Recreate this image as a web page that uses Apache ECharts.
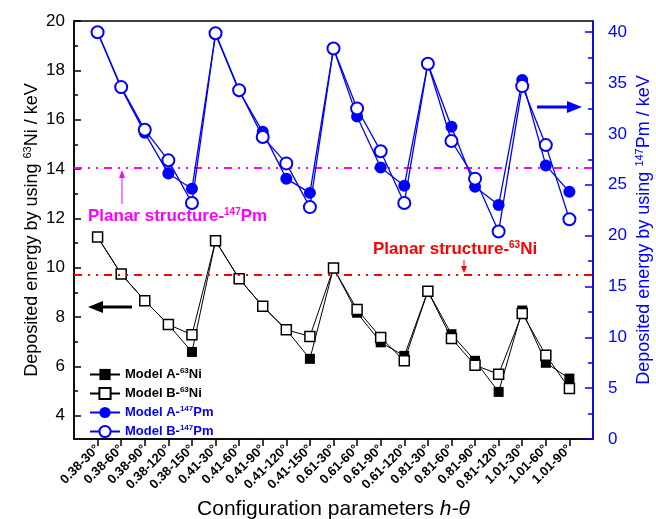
<!DOCTYPE html>
<html>
<head>
<meta charset="utf-8">
<script src="https://cdn.jsdelivr.net/npm/echarts@6/dist/echarts.min.js"></script>
<style>
  html, body { margin: 0; padding: 0; background: #fff; }
  #chart { width: 656px; height: 519px; }
</style>
</head>
<body>
<div id="chart"></div>
<script>
// configuration parameters h-theta
const categories = ['0.38-30°', '0.38-60°', '0.38-90°', '0.38-120°', '0.38-150°',
  '0.41-30°', '0.41-60°', '0.41-90°', '0.41-120°', '0.41-150°',
  '0.61-30°', '0.61-60°', '0.61-90°', '0.61-120°',
  '0.81-30°', '0.81-60°', '0.81-90°', '0.81-120°',
  '1.01-30°', '1.01-60°', '1.01-90°'];

// deposited energy, keV
const niModelA = [11.24, 9.74, 8.66, 7.69, 6.58, 11.09, 9.55, 8.43, 7.48, 6.30, 9.98, 8.17, 6.97, 6.42, 9.05, 7.30, 6.22, 4.96, 8.26, 6.14, 5.50];
const niModelB = [11.24, 9.74, 8.66, 7.69, 7.28, 11.09, 9.55, 8.43, 7.48, 7.21, 9.98, 8.30, 7.17, 6.22, 9.04, 7.13, 6.04, 5.68, 8.14, 6.45, 5.10];
const pmModelA = [40.0, 34.5, 30.1, 26.1, 24.6, 39.8, 34.2, 30.2, 25.6, 24.2, 38.4, 31.7, 26.7, 24.9, 36.9, 30.7, 24.8, 23.0, 35.3, 26.9, 24.3];
const pmModelB = [40.0, 34.6, 30.4, 27.4, 23.2, 39.9, 34.3, 29.7, 27.1, 22.8, 38.4, 32.5, 28.3, 23.2, 36.9, 29.3, 25.6, 20.4, 34.7, 28.9, 21.6];

// planar structure reference values
const niPlanar = 9.7;
const pmPlanar = 26.7;

// tick labels
const niTicks = [4, 6, 8, 10, 12, 14, 16, 18, 20];
const niMinor = [5, 7, 9, 11, 13, 15, 17, 19];
const pmTicks = [0, 5, 10, 15, 20, 25, 30, 35, 40];
const pmMinor = [2.5, 7.5, 12.5, 17.5, 22.5, 27.5, 32.5, 37.5];

const BLUE = '#0000ff';
const RED = '#ff0000';
const MAGENTA = '#ff00ff';
const FONT = 'Arial, "Liberation Sans", sans-serif';

const toPoints = arr => arr.map((v, i) => [i, v]);
const catIdx = categories.map((c, i) => i);

const dashDot = [8, 6, 2, 6, 2, 6];

const chart = echarts.init(document.getElementById('chart'));

const legendRich = {
  k: { fontSize: 13, fontWeight: 'bold', color: '#000', fontFamily: FONT, lineHeight: 16 },
  ks: { fontSize: 8, fontWeight: 'bold', color: '#000', fontFamily: FONT, lineHeight: 16, padding: [0, 0, 7, 0] },
  b: { fontSize: 13, fontWeight: 'bold', color: BLUE, fontFamily: FONT, lineHeight: 16 },
  bs: { fontSize: 8, fontWeight: 'bold', color: BLUE, fontFamily: FONT, lineHeight: 16, padding: [0, 0, 7, 0] }
};

const legendText = {
  'Model A-63Ni': '{k|Model A-}{ks|63}{k|Ni}',
  'Model B-63Ni': '{k|Model B-}{ks|63}{k|Ni}',
  'Model A-147Pm': '{b|Model A-}{bs|147}{b|Pm}',
  'Model B-147Pm': '{b|Model B-}{bs|147}{b|Pm}'
};

const option = {
  animation: false,
  backgroundColor: '#fff',
  grid: {
    left: 74, right: 63, top: 21, bottom: 80,
    containLabel: false, outerBoundsMode: 'none',
    show: true, borderColor: '#000', borderWidth: 1.5
  },
  legend: {
    orient: 'vertical',
    left: 84, top: 362,
    itemWidth: 30, itemHeight: 14, itemGap: 4,
    formatter: name => legendText[name],
    textStyle: { rich: legendRich },
    data: ['Model A-63Ni', 'Model B-63Ni', 'Model A-147Pm', 'Model B-147Pm']
  },
  xAxis: {
    type: 'value',
    min: -1, max: 21, interval: 1,
    name: '{n|Configuration parameters }{i|h-θ}',
    nameLocation: 'middle',
    nameGap: 60,
    nameMoveOverlap: false,
    nameTextStyle: {
      rich: {
        n: { fontSize: 21, color: '#000', fontFamily: FONT },
        i: { fontSize: 21, color: '#000', fontFamily: FONT, fontStyle: 'italic' }
      }
    },
    axisLine: { show: true, onZero: false, lineStyle: { color: '#000', width: 1.5 } },
    axisTick: { show: true, inside: false, length: 7, customValues: catIdx, lineStyle: { color: '#000', width: 1.5 } },
    axisLabel: {
      customValues: catIdx,
      rotate: 45, fontSize: 13, fontWeight: 'bold', fontFamily: FONT, color: '#000', margin: 8,
      formatter: v => categories[Math.round(v)] || ''
    },
    splitLine: { show: false }
  },
  yAxis: [
    {
      type: 'value', position: 'left',
      min: 3.05, max: 20,
      name: '{n|Deposited energy by using }{s|63}{n|Ni / keV}',
      nameLocation: 'middle', nameGap: 31, nameRotate: 90,
      nameMoveOverlap: false,
      nameTextStyle: {
        rich: {
          n: { fontSize: 18, color: '#000', fontFamily: FONT, lineHeight: 22 },
          s: { fontSize: 11, color: '#000', fontFamily: FONT, lineHeight: 22, padding: [0, 0, 9, 0] }
        }
      },
      axisLine: { show: true, onZero: false, lineStyle: { color: '#000', width: 1.5 } },
      axisTick: { show: true, inside: true, length: 7, customValues: niTicks, lineStyle: { color: '#000', width: 1.5 } },
      axisLabel: { customValues: niTicks, fontSize: 17, fontFamily: FONT, color: '#000', margin: 9 },
      splitLine: { show: false }
    },
    {
      type: 'value', position: 'right',
      min: 0, max: 41.1,
      name: '{n|Deposited energy by using }{s|147}{n|Pm / keV}',
      nameLocation: 'middle', nameGap: 40, nameRotate: 90,
      nameMoveOverlap: false,
      nameTextStyle: {
        rich: {
          n: { fontSize: 18, color: BLUE, fontFamily: FONT, lineHeight: 22 },
          s: { fontSize: 11, color: BLUE, fontFamily: FONT, lineHeight: 22, padding: [0, 0, 9, 0] }
        }
      },
      axisLine: { show: true, onZero: false, lineStyle: { color: BLUE, width: 1.5 } },
      axisTick: { show: true, inside: true, length: 8, customValues: pmTicks, lineStyle: { color: BLUE, width: 1.5 } },
      axisLabel: { customValues: pmTicks, fontSize: 17, fontFamily: FONT, color: BLUE, margin: 15 },
      splitLine: { show: false }
    },
    // minor ticks
    {
      type: 'value', position: 'left', min: 3.05, max: 20,
      axisLine: { show: false, onZero: false },
      axisTick: { show: true, inside: true, length: 4, customValues: niMinor, lineStyle: { color: '#000', width: 1.5 } },
      axisLabel: { show: false }, splitLine: { show: false }
    },
    {
      type: 'value', position: 'right', min: 0, max: 41.1,
      axisLine: { show: false, onZero: false },
      axisTick: { show: true, inside: true, length: 5, customValues: pmMinor, lineStyle: { color: BLUE, width: 1.5 } },
      axisLabel: { show: false }, splitLine: { show: false }
    }
  ],
  series: [
    {
      name: 'Model A-63Ni', type: 'line', yAxisIndex: 0,
      data: toPoints(niModelA),
      symbol: 'rect', symbolSize: 10,
      lineStyle: { color: '#000', width: 1 },
      itemStyle: { color: '#000' },
      z: 3,
      markLine: {
        silent: true, symbol: 'none',
        label: { show: false },
        lineStyle: { color: RED, width: 2, type: dashDot },
        data: [{ yAxis: niPlanar }]
      }
    },
    {
      name: 'Model B-63Ni', type: 'line', yAxisIndex: 0,
      data: toPoints(niModelB),
      symbol: 'rect', symbolSize: 10,
      lineStyle: { color: '#000', width: 1 },
      itemStyle: { color: '#fff', borderColor: '#000', borderWidth: 1.5 },
      z: 4
    },
    {
      name: 'Model A-147Pm', type: 'line', yAxisIndex: 1,
      data: toPoints(pmModelA),
      symbol: 'circle', symbolSize: 12,
      lineStyle: { color: BLUE, width: 1.3 },
      itemStyle: { color: BLUE },
      z: 5,
      markLine: {
        silent: true, symbol: 'none',
        label: { show: false },
        lineStyle: { color: MAGENTA, width: 2, type: dashDot },
        data: [{ yAxis: pmPlanar }]
      }
    },
    {
      name: 'Model B-147Pm', type: 'line', yAxisIndex: 1,
      data: toPoints(pmModelB),
      symbol: 'circle', symbolSize: 12,
      lineStyle: { color: BLUE, width: 1.3 },
      itemStyle: { color: '#fff', borderColor: BLUE, borderWidth: 2 },
      z: 6
    }
  ],
  graphic: [
    // planar Pm label + arrow
    {
      type: 'text', left: 88, top: 207, z: 10,
      style: {
        text: '{m|Planar structure-}{ms|147}{m|Pm}',
        rich: {
          m: { fontSize: 17, fontWeight: 'bold', fill: MAGENTA, fontFamily: FONT, lineHeight: 20 },
          ms: { fontSize: 10, fontWeight: 'bold', fill: MAGENTA, fontFamily: FONT, lineHeight: 20, padding: [0, 0, 9, 0] }
        }
      }
    },
    { type: 'line', z: 10, shape: { x1: 122, y1: 204, x2: 122, y2: 176 }, style: { stroke: MAGENTA, lineWidth: 1 } },
    { type: 'polygon', z: 10, shape: { points: [[122, 170], [119, 178], [125, 178]] }, style: { fill: MAGENTA } },
    // planar Ni label + arrow
    {
      type: 'text', left: 373, top: 240, z: 10,
      style: {
        text: '{r|Planar structure-}{rs|63}{r|Ni}',
        rich: {
          r: { fontSize: 17, fontWeight: 'bold', fill: RED, fontFamily: FONT, lineHeight: 20 },
          rs: { fontSize: 10, fontWeight: 'bold', fill: RED, fontFamily: FONT, lineHeight: 20, padding: [0, 0, 9, 0] }
        }
      }
    },
    { type: 'line', z: 10, shape: { x1: 464, y1: 260, x2: 464, y2: 268 }, style: { stroke: RED, lineWidth: 1 } },
    { type: 'polygon', z: 10, shape: { points: [[464, 273], [461, 266], [467, 266]] }, style: { fill: RED } },
    // axis direction arrows
    { type: 'line', z: 10, shape: { x1: 132, y1: 307, x2: 100, y2: 307 }, style: { stroke: '#000', lineWidth: 3 } },
    { type: 'polygon', z: 10, shape: { points: [[88, 307], [103, 301], [103, 313]] }, style: { fill: '#000' } },
    { type: 'line', z: 10, shape: { x1: 537, y1: 107, x2: 570, y2: 107 }, style: { stroke: BLUE, lineWidth: 3 } },
    { type: 'polygon', z: 10, shape: { points: [[582, 107], [567, 101], [567, 113]] }, style: { fill: BLUE } }
  ]
};

chart.setOption(option);
</script>
</body>
</html>
